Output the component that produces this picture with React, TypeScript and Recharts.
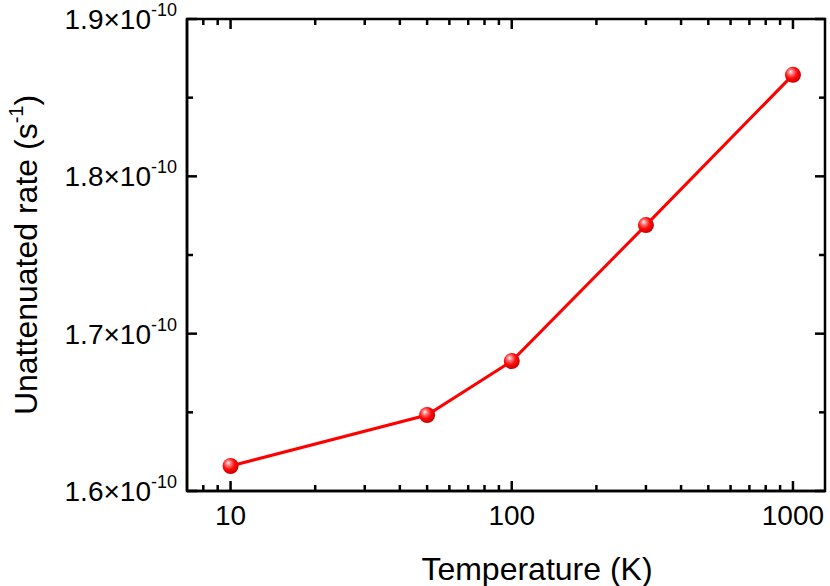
import React from "react";
import {
  LineChart,
  Line,
  XAxis,
  YAxis,
  ReferenceArea,
} from "recharts";

// Temperature (K) and rate in units of 1e-10 s^-1
const temperatures = [10, 50, 100, 300, 1000];
const rates = [1.6159, 1.6483, 1.6826, 1.769, 1.8645];

const xTicks = [8, 9, 10, 20, 30, 40, 50, 60, 70, 80, 90, 100, 200, 300, 400, 500, 600, 700, 800, 900, 1000];
const xMajor = [10, 100, 1000];
const yTicks = [1.6, 1.65, 1.7, 1.75, 1.8, 1.85, 1.9];
const yMajor = [1.6, 1.7, 1.8, 1.9];

const data = temperatures.map((t, i) => ({ t, rate: rates[i] }));

const W = 830;
const H = 586;
const TOP = 19;
const BOTTOM = 491;
const LEFT = 187;
const RIGHT = 825;
const XAXIS_H = 50;
const YAXIS_W = 120;
const FONT = "'Liberation Sans', Arial, Helvetica, sans-serif";
const RED = "#ff0000";

function XTick(props: any) {
  const { x, y, payload } = props;
  const major = xMajor.includes(payload.value);
  const len = major ? 10 : 6;
  return (
    <g>
      <line x1={x} x2={x} y1={y} y2={y - len} stroke="#000" strokeWidth={2.5} />
      <line x1={x} x2={x} y1={TOP} y2={TOP + len} stroke="#000" strokeWidth={2.5} />
      {major && (
        <text x={x} y={y + 34} textAnchor="middle" fontSize={28} fontFamily={FONT} fill="#000">
          {payload.value}
        </text>
      )}
    </g>
  );
}

function YTick(props: any) {
  const { x, y, payload } = props;
  const v = Math.round(payload.value * 100) / 100;
  const major = yMajor.some((m) => Math.abs(m - v) < 1e-6);
  const len = major ? 10 : 6;
  return (
    <g>
      <line x1={x} x2={x + len} y1={y} y2={y} stroke="#000" strokeWidth={2.5} />
      <line x1={RIGHT} x2={RIGHT - len} y1={y} y2={y} stroke="#000" strokeWidth={2.5} />
      {major && (
        <text x={x - 10} y={y + 10} textAnchor="end" fontSize={28} fontFamily={FONT} fill="#000">
          {v.toFixed(1)}×10
          <tspan fontSize={18} dy={-13}>-10</tspan>
        </text>
      )}
    </g>
  );
}

function Ball(props: any) {
  const { cx, cy, index } = props;
  if (cx == null || cy == null) return null;
  return <circle key={index} cx={cx} cy={cy} r={8} fill="url(#ballGrad)" />;
}

export default function App() {
  return (
    <div style={{ position: "absolute", left: 0, top: 0, width: W, height: H, background: "#fff" }}>
      <LineChart
        width={W}
        height={H}
        data={data}
        margin={{ top: TOP, right: W - RIGHT, bottom: H - BOTTOM - XAXIS_H, left: LEFT - YAXIS_W }}
      >
        <defs>
          <radialGradient id="ballGrad" cx="0.42" cy="0.4" r="0.6" fx="0.35" fy="0.3">
            <stop offset="0%" stopColor="#ffffff" />
            <stop offset="25%" stopColor="#ff8080" />
            <stop offset="60%" stopColor="#ff0a0a" />
            <stop offset="100%" stopColor="#c80000" />
          </radialGradient>
        </defs>
        <XAxis
          dataKey="t"
          type="number"
          scale="log"
          domain={[7, 1300]}
          allowDataOverflow
          ticks={xTicks}
          interval={0}
          height={XAXIS_H}
          tickSize={0}
          tickMargin={0}
          tickLine={false}
          axisLine={{ stroke: "#000", strokeWidth: 2.5 }}
          tick={<XTick />}
          label={{
            content: (p: any) => {
              const vb = p.viewBox;
              return (
                <text x={vb.x + vb.width / 2 + 31} y={580} textAnchor="middle" fontSize={32} fontFamily={FONT} fill="#000">
                  Temperature (K)
                </text>
              );
            },
          }}
        />
        <YAxis
          type="number"
          domain={[1.6, 1.9]}
          allowDataOverflow
          ticks={yTicks}
          interval={0}
          width={YAXIS_W}
          tickSize={0}
          tickMargin={0}
          tickLine={false}
          axisLine={{ stroke: "#000", strokeWidth: 2.5 }}
          tick={<YTick />}
          label={{
            content: () => {
              const cy = (TOP + BOTTOM) / 2;
              return (
                <text
                  x={37}
                  y={cy}
                  transform={`rotate(-90 37 ${cy})`}
                  textAnchor="middle"
                  fontSize={32}
                  fontFamily={FONT}
                  fill="#000"
                >
                  Unattenuated rate (s
                  <tspan fontSize={20} dy={-14}>-1</tspan>
                  <tspan dy={14}>)</tspan>
                </text>
              );
            },
          }}
        />
        <ReferenceArea
          x1={7}
          x2={1300}
          y1={1.6}
          y2={1.9}
          fill="none"
          fillOpacity={0}
          stroke="#000"
          strokeWidth={2.5}
          ifOverflow="visible"
        />
        <Line
          type="linear"
          dataKey="rate"
          stroke={RED}
          strokeWidth={3}
          dot={<Ball />}
          activeDot={false}
          isAnimationActive={false}
        />
      </LineChart>
    </div>
  );
}
